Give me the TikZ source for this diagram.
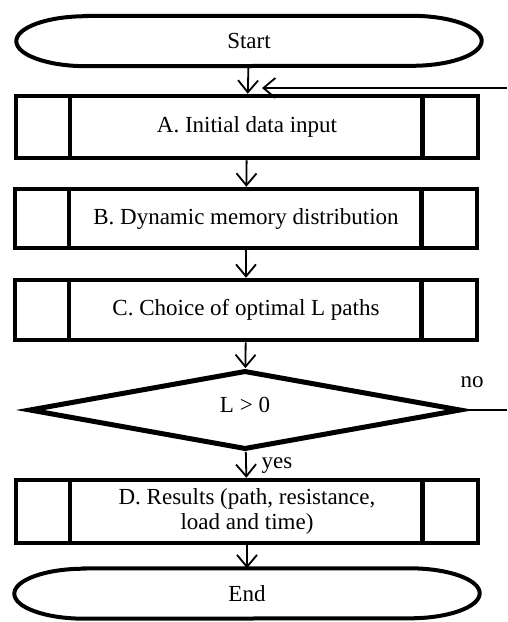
\documentclass[tikz,border=0pt]{standalone}
\usepackage{fontspec}
\setmainfont{Liberation Serif}
\usetikzlibrary{arrows.meta,shapes.geometric}
\begin{document}
\begin{tikzpicture}[x=1pt,y=1pt,
  font=\fontsize{23}{25}\selectfont,
  proc/.style={draw, line width=4.5pt, minimum width=462pt, inner sep=0pt, align=center},
  term/.style={minimum width=465pt, minimum height=50pt, inner sep=0pt},
  termline/.style={line width=4pt},
  sideline/.style={line width=4.5pt},
  decision/.style={draw, diamond, line width=5pt, minimum width=432pt, minimum height=79pt, inner sep=0pt},
  flow/.style={line width=1.8pt, -{Straight Barb[length=12pt,width=20pt,line width=1.8pt]}},
  plain/.style={line width=1.8pt}
]
\useasboundingbox (0,0) rectangle (507,-622);

% terminals
\node[term] (s) at (249,-41) {Start};
\node[term] (e) at (247,-593.5) {End};
\foreach \n in {s,e}{
  \draw[termline] ([xshift=70pt]\n.north west) -- ([xshift=-70pt]\n.north east)
    arc[start angle=90, end angle=-90, x radius=70, y radius=25]
    -- ([xshift=70pt]\n.south west)
    arc[start angle=270, end angle=90, x radius=70, y radius=25] -- cycle;
}

% process boxes
\node[proc, minimum height=62pt] (a) at (247,-127) {A. Initial data input};
\node[proc, minimum height=59pt] (b) at (246,-218.5) {B. Dynamic memory distribution};
\node[proc, minimum height=60pt] (c) at (246,-310) {C. Choice of optimal L paths};
\node[proc, minimum height=63pt] (d) at (247,-511.5) {D. Results (path, resistance,\\load and time)};
\foreach \n in {a,b,c,d}{
  \draw[sideline] ([xshift=56pt]\n.north west) -- ([xshift=56pt]\n.south west);
  \draw[sideline] ([xshift=-58pt]\n.north east) -- ([xshift=-58pt]\n.south east);
}

% decision
\node[decision] (q) at (245,-410) {};
\node (qt) at (245,-405) {L > 0};

% connectors
\draw[flow] (s) -- (a);
\draw[flow] (a) -- (b);
\draw[flow] (b) -- (c);
\draw[flow] (c) -- (q);
\draw[flow] (q) -- (d);
\draw[flow] (d) -- (e);

\coordinate (fbs) at (507,-88);
\coordinate (fbt) at (262,-88);
\draw[flow] (fbs) -- (fbt);

\coordinate (noend) at (507,-410);
\draw[plain] (q.east) -- (noend);

\node (no) at (472,-382) {no};
\node (yes) at (277,-466) {yes};
\end{tikzpicture}
\end{document}
